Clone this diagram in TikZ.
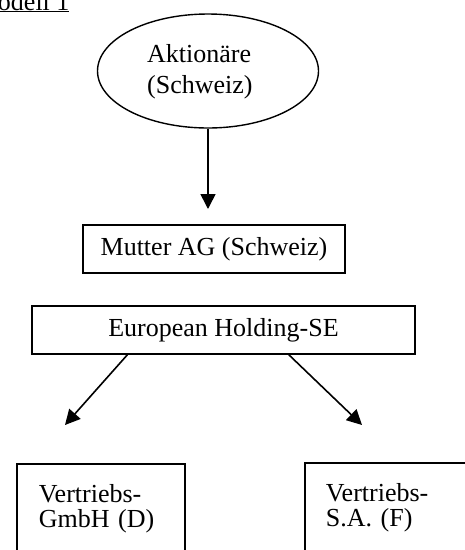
\documentclass[tikz,border=0pt]{standalone}
\usepackage{fontspec}
\setmainfont{Liberation Serif}
\usetikzlibrary{shapes.geometric,arrows.meta,calc}

\begin{document}
\begin{tikzpicture}[x=1pt,y=-1pt,
        font=\fontsize{26}{31}\selectfont,
        kasten/.style={draw,line width=1.6pt,inner sep=0pt},
        firma/.style={kasten,anchor=north west,align=left,minimum width=168pt,minimum height=90pt,
                font=\fontsize{26}{25}\selectfont},
        pfeil/.style={-{Triangle[length=15pt,width=15pt]},line width=1.6pt}]
        \useasboundingbox (0,0) rectangle (465,550);

        \node[anchor=base east] (titel) at (73,10) {\underline{Modell 1}};

        \node[draw,ellipse,line width=1.4pt,minimum width=221pt,minimum height=114pt] (aktionaere) at (208,71) {};
        \node[align=left,anchor=base west,inner sep=0pt] (aktText) at (147,93) {Aktionäre\\(Schweiz)};

        \node[kasten,minimum width=262pt,minimum height=48pt] (mutter) at (214,249) {Mutter AG (Schweiz)};
        \node[kasten,minimum width=383pt,minimum height=48pt] (holding) at (223.5,330) {European Holding-SE};

        \node[firma,text width=124pt,inner xsep=22pt] (gmbh) at (16,463) {Vertriebs-\\GmbH (D)};
        \node[firma,text width=126pt,inner xsep=21pt] (sa) at (304,462) {Vertriebs-\\S.A. (F)};

        \coordinate (spitzeM) at (208,209);
        \coordinate (spitzeL) at (65,425);
        \coordinate (spitzeR) at (362,425);
        \draw[pfeil] (aktionaere.south) -- (spitzeM);
        \draw[pfeil] ($(holding.south west)!.25!(holding.south east)$) -- (spitzeL);
        \draw[pfeil] ($(holding.south west)!.67!(holding.south east)$) -- (spitzeR);

\end{tikzpicture}
\end{document}
